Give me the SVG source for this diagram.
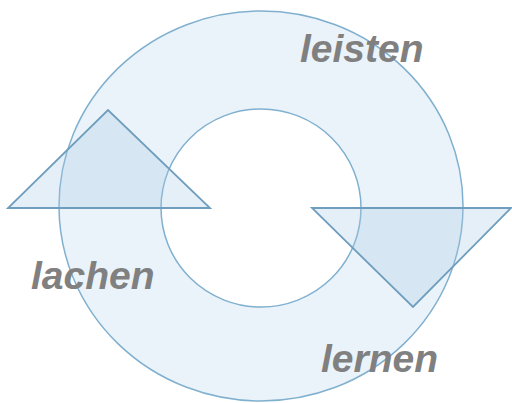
<svg xmlns="http://www.w3.org/2000/svg" width="512" height="403" viewBox="0 0 512 403">
<style>
.ring{fill:#ebf3fa;stroke:#80b0cf;stroke-width:1.5;fill-rule:evenodd}
.tri{fill:#a9cbe4;fill-opacity:0.3;stroke:#6e9dbd;stroke-width:1.8;stroke-linejoin:miter}
.lbl{font-family:"Liberation Sans",Arial,sans-serif;font-weight:bold;font-style:italic;font-size:39px;fill:#808080}
</style>
<rect width="512" height="403" fill="#ffffff"/>
<g id="ring">
<path class="ring" d="M59,206 A202,195 0 1 0 463,206 A202,195 0 1 0 59,206 Z M161,208 A100,99 0 1 1 361,208 A100,99 0 1 1 161,208 Z"/>
</g>
<g id="connectors">
<polygon id="arrow-left" class="tri" points="8,208 210,208 108,110"/>
<polygon id="arrow-right" class="tri" points="312,208 511,208 413,307"/>
</g>
<g id="leisten"><text class="lbl" x="300" y="62">leisten</text></g>
<g id="lachen"><text class="lbl" x="31" y="289">lachen</text></g>
<g id="lernen"><text class="lbl" x="321" y="372">lernen</text></g>
</svg>
